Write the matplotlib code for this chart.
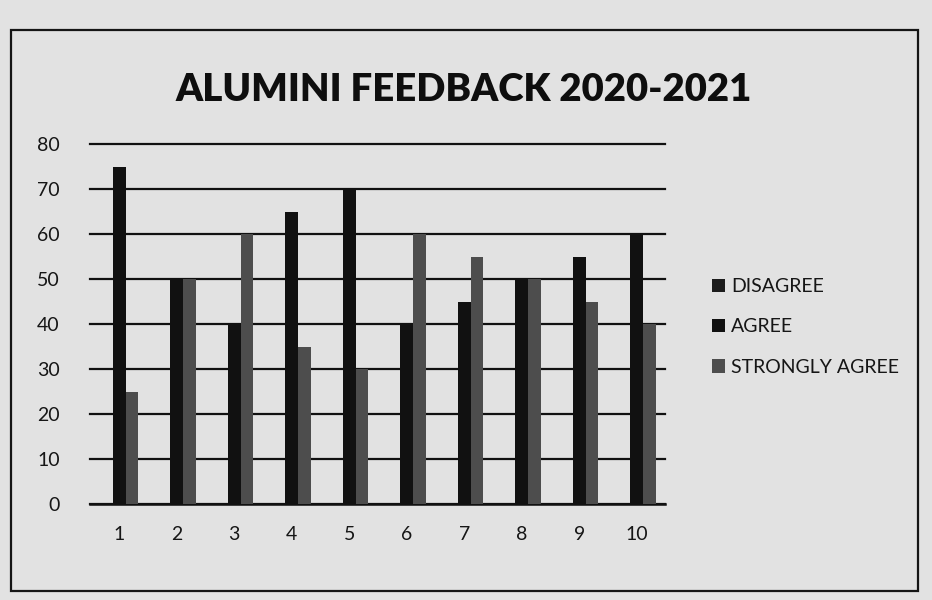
import numpy as np
import matplotlib
matplotlib.use("Agg")
import matplotlib.pyplot as plt
from matplotlib.patches import Rectangle

# survey results per question (percent of alumni)
questions = ['1', '2', '3', '4', '5', '6', '7', '8', '9', '10']
disagree = [0, 0, 0, 0, 0, 0, 0, 0, 0, 0]
agree = [75, 50, 40, 65, 70, 40, 45, 50, 55, 60]
strongly_agree = [25, 50, 60, 35, 30, 60, 55, 50, 45, 40]

series_names = ['DISAGREE', 'AGREE', 'STRONGLY AGREE']
series_colors = ['#1c1c1c', '#111111', '#4d4d4d']

plt.rcParams['font.family'] = ['Lato', 'DejaVu Sans']

paper = '#e2e2e2'
fig = plt.figure(figsize=(9.32, 6.0), dpi=100, facecolor=paper)

# chart frame
fig.patches.append(Rectangle((0.012, 0.015), 0.973, 0.935, transform=fig.transFigure,
                             fill=False, edgecolor='#151515', linewidth=1.6))

ax = fig.add_axes([0.097, 0.16, 0.617, 0.60])
ax.set_facecolor(paper)

x = np.arange(1, len(questions) + 1)
w = 1 / 4.5
for i, vals in enumerate([disagree, agree, strongly_agree]):
    ax.bar(x + (i - 1) * w, vals, width=w, color=series_colors[i],
           label=series_names[i], zorder=3)

ax.set_xlim(0.5, 10.5)
ax.set_ylim(0, 80)
ax.set_yticks(range(0, 81, 10))
ax.set_xticks(x)
ax.set_xticklabels(questions)
ax.yaxis.grid(True, color='#111111', linewidth=1.6, zorder=0)
for gl in ax.get_ygridlines():
    gl.set_clip_on(False)
ax.tick_params(axis='both', length=0, labelsize=14, colors='#161616')
ax.tick_params(axis='y', pad=22)
ax.tick_params(axis='x', pad=16)
for s in ['top', 'right', 'left']:
    ax.spines[s].set_visible(False)
ax.spines['bottom'].set_color('#111111')
ax.spines['bottom'].set_linewidth(1.8)

fig.text(0.497, 0.85, 'ALUMINI FEEDBACK 2020-2021', ha='center', va='center',
         fontsize=27.5, fontweight='heavy', color='#0e0e0e')

fig.legend(loc='center left', bbox_to_anchor=(0.745, 0.455), frameon=False,
           fontsize=14, handlelength=0.7, handleheight=0.7, handletextpad=0.3,
           labelspacing=1.2, labelcolor='#161616')

fig.savefig('out.png', dpi=100, facecolor=paper)
